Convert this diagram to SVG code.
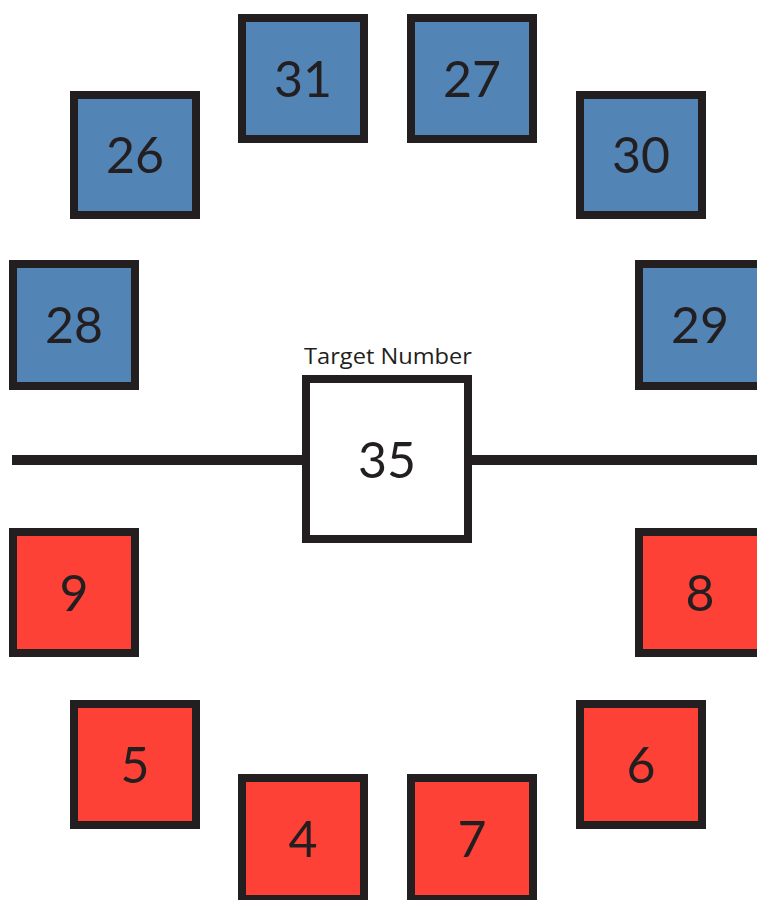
<svg xmlns="http://www.w3.org/2000/svg" width="757" height="900" viewBox="0 0 757 900">
<style>
.box rect{stroke:#231f20;stroke-width:8}
.blue rect{fill:#5284b6}
.red rect{fill:#fe4136}
.box text{font-family:Lato,"Open Sans","DejaVu Sans",sans-serif;font-size:50px;fill:#231f20;text-anchor:middle}
.conn line{stroke:#231f20;stroke-width:10}
</style>
<rect width="757" height="900" fill="#ffffff"/>
<g id="connectors" class="conn">
<line x1="12" y1="460" x2="302" y2="460"/>
<line x1="472" y1="460" x2="757" y2="460"/>
</g>
<g id="n31" class="box blue"><rect x="242" y="18" width="122" height="121"/><text x="303" y="97">31</text></g>
<g id="n27" class="box blue"><rect x="411" y="18" width="122" height="121"/><text x="472" y="97">27</text></g>
<g id="n26" class="box blue"><rect x="74" y="95" width="122" height="120"/><text x="135" y="173">26</text></g>
<g id="n30" class="box blue"><rect x="580" y="95" width="122" height="120"/><text x="641" y="173">30</text></g>
<g id="n28" class="box blue"><rect x="13" y="264" width="122" height="122"/><text x="74" y="343">28</text></g>
<g id="n29" class="box blue"><rect x="639" y="264" width="122" height="122"/><text x="700" y="343">29</text></g>
<g id="target">
<text x="388" y="364" textLength="168" lengthAdjust="spacingAndGlyphs" style="font-family:'Open Sans','Liberation Sans',sans-serif;font-size:22px;fill:#231f20;text-anchor:middle">Target Number</text>
<g class="box"><rect x="306" y="379" width="162" height="160" fill="#ffffff"/><text x="387" y="478">35</text></g>
</g>
<g id="n9" class="box red"><rect x="13" y="532" width="122" height="121"/><text x="74" y="611">9</text></g>
<g id="n8" class="box red"><rect x="639" y="532" width="122" height="121"/><text x="700" y="611">8</text></g>
<g id="n5" class="box red"><rect x="74" y="704" width="122" height="121"/><text x="135" y="783">5</text></g>
<g id="n6" class="box red"><rect x="580" y="704" width="122" height="121"/><text x="641" y="783">6</text></g>
<g id="n4" class="box red"><rect x="242" y="778" width="122" height="121"/><text x="303" y="857">4</text></g>
<g id="n7" class="box red"><rect x="411" y="778" width="122" height="121"/><text x="472" y="857">7</text></g>
</svg>
